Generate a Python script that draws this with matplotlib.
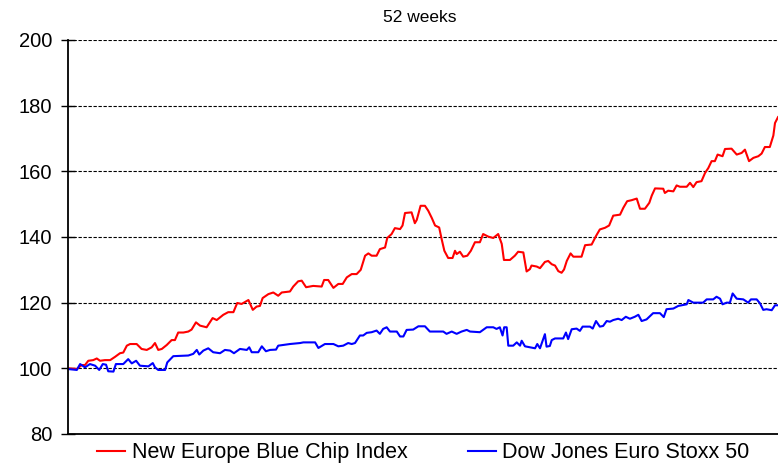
import matplotlib.pyplot as plt

# trading day index (0..260) and index level
red_days = [0, 3.4, 5.2, 6.4, 7.6, 9.4, 10.7, 11.9, 13.7, 15.6, 17.4, 19.2, 20.4, 21.7, 22.9,
            25.3, 27.1, 29, 30.8, 32, 33.2, 34.5, 36.3, 38.1, 39.3, 40.5, 42.4, 44.2, 45.4,
            47, 48.5, 50.9, 53.1, 54.6, 57, 58.8, 60.7, 62.1, 63.7, 66.2, 67.8, 69.2, 70.4,
            71.4, 73.5, 75.3, 77.1, 78.4, 81.4, 82.6, 84.4, 85.7, 87.3, 89.9, 93, 93.9, 95.4,
            97.3, 99.1, 100.7, 102.2, 104, 105.8, 107.3, 108.9, 110.1, 111.3, 113.1, 114.3,
            116.2, 117, 118.6, 119.8, 121.7, 122.6, 123.5, 125.9, 127.1, 127.8, 129.2, 130.8,
            132, 133.3, 134.5, 136, 136.9, 137.9, 139.3, 140.9, 141.8, 142.4, 143.6, 144.8,
            146.3, 147.6, 149.1, 150.9, 152.1, 154, 155.8, 157.6, 158.9, 159.7, 161.9, 163.7,
            164.9, 166.8, 168, 169.2, 169.8, 171.7, 172.9, 174.7, 175.9, 177.2, 178.4, 179.6,
            180.8, 181.7, 182.7, 184.1, 185.1, 188.1, 189.4, 191.8, 193.4, 194.8, 196.7, 198.2,
            199.7, 202.2, 203.4, 204.8, 206.4, 208.3, 209.5, 211.3, 212.9, 213.8, 215, 218,
            218.6, 219.8, 221.7, 222.9, 224.1, 226.6, 227.8, 229, 230.2, 232, 233.3, 234.5,
            235.7, 236.9, 237.9, 239.7, 240.6, 243, 244.9, 246.7, 247.9, 249.4, 251, 252.8,
            254, 255.2, 257, 258.3, 258.9, 260]
red_vals = [100, 99.8, 101, 101, 102.3, 102.5, 103, 102.3, 102.5, 102.5, 103.5, 104.6, 104.8,
            106.9, 107.4, 107.4, 105.9, 105.6, 106.4, 107.7, 105.6, 105.9, 107.1, 108.6, 108.6,
            110.9, 110.9, 111.2, 111.8, 114, 113, 112.5, 115.3, 114.7, 116.3, 117.1, 117.1,
            119.9, 119.6, 120.8, 117.8, 118.8, 119, 121.4, 122.6, 123.1, 122.1, 123.1, 123.4,
            124.9, 126.5, 126.7, 124.7, 125.1, 124.9, 126.9, 126.9, 124.5, 125.7, 125.7, 127.7,
            128.7, 128.7, 130, 134.3, 135, 134.3, 134.3, 136.3, 136.8, 139.7, 140.9, 142.7,
            142.4, 143.5, 147.3, 147.5, 144.2, 145.2, 149.5, 149.5, 148, 145.8, 143.5, 142.9,
            139.4, 135.8, 133.6, 133.6, 135.8, 134.8, 135.5, 134, 134.3, 135.8, 138.4, 138.4,
            140.9, 140.1, 139.7, 140.9, 137.9, 133, 133, 134.3, 135.5, 135.3, 129.5, 130.2,
            131.3, 131, 130.5, 132.4, 132.7, 131.7, 131.3, 129.6, 129.1, 130.1, 132.7, 135, 134,
            134, 137.5, 137.7, 140.3, 142.3, 142.8, 143.5, 146.5, 146.8, 148.9, 150.9, 151.2,
            151.7, 148.6, 148.6, 150.4, 152.6, 154.8, 154.7, 153.4, 154.1, 153.9, 155.7, 155.3,
            155.3, 156.5, 155.2, 156.7, 157, 159.5, 161, 163.1, 163.1, 165.1, 164.6, 166.8,
            166.9, 165.1, 165.6, 166.6, 163.1, 164.1, 164.6, 165.4, 167.4, 167.4, 170.9, 174.7,
            176.5]

blue_days = [0, 3.4, 4.6, 6.4, 8.2, 10.1, 11.6, 12.9, 14.1, 14.9, 16.8, 17.7, 20.4, 22.2, 23.5,
             25.1, 26.5, 29.6, 31.2, 32, 33.2, 35.7, 36.5, 38.7, 44.2, 46, 47.3, 48.2, 49.7,
             51.5, 53.3, 55.8, 57.6, 59.5, 60.9, 63.1, 65.6, 66.5, 67.4, 69.8, 71.1, 72.6, 74.1,
             76.3, 77.1, 81.4, 85.1, 86.3, 90.6, 91.8, 94.2, 97.3, 99.1, 100.9, 102.7, 104,
             105.2, 107, 108.2, 109.5, 111.3, 113.1, 114.3, 115.5, 116.8, 118, 120.5, 121.7,
             122.9, 124.1, 126.5, 128.4, 130.8, 132.6, 137.5, 138.7, 140.6, 142.4, 144.2,
             146.1, 147.3, 150.9, 153.4, 155.8, 157, 158.2, 159.2, 159.8, 160.7, 161.3, 163.1,
             164.4, 165.6, 166.2, 167.4, 169.2, 171.1, 171.9, 172.9, 174.7, 175.3, 176.5, 177.2,
             178.4, 181.4, 182.4, 183.2, 184.5, 186.3, 187.5, 188.5, 191.2, 192.2, 193.4, 194.8,
             196, 197.3, 198.5, 199.7, 201.5, 202.8, 204.3, 205.8, 207.6, 208.9, 210.1, 211.9,
             214.3, 216.8, 218.2, 219.2, 221.7, 223.5, 226.6, 227.2, 229, 232.6, 233.9, 236.3,
             237.5, 238.8, 239.7, 241.2, 242.4, 243.4, 244.9, 247.3, 249.1, 250.1, 252.2, 253.4,
             254.6, 255.8, 257.7, 258.9, 260]
blue_vals = [99.8, 99.5, 101.3, 100.3, 101.3, 100.8, 99.5, 101.3, 101.1, 99.1, 99, 101.3, 101.3,
             102.8, 101.5, 102.3, 100.8, 100.6, 101.6, 100.3, 99.5, 99.5, 101.8, 103.7, 103.9,
             104.4, 105.6, 104.2, 105.4, 106.1, 104.9, 104.6, 105.6, 105.4, 104.6, 105.9, 105.6,
             106.4, 104.9, 104.9, 106.7, 105.2, 105.6, 105.7, 106.9, 107.4, 107.7, 107.9, 107.9,
             106.2, 107.4, 107.4, 106.7, 106.9, 107.7, 107.4, 107.7, 110, 110, 110.8, 111, 111.5,
             110.5, 112, 112.5, 111.2, 111.2, 109.7, 109.7, 111.7, 111.8, 112.8, 112.8, 111.2,
             111.2, 110.5, 111.2, 110.5, 111.2, 111.7, 111.2, 111, 112.5, 112.5, 112, 112.5,
             110, 112.5, 112.5, 106.9, 106.9, 107.9, 106.9, 108.4, 106.7, 106.4, 106.1, 107.4,
             106.1, 110.4, 106.6, 106.8, 108.6, 109.1, 109.1, 110.9, 108.9, 111.9, 112.1, 111.4,
             112.7, 112.7, 112.1, 114.4, 112.7, 112.9, 114.4, 114.2, 114.7, 115.1, 114.7, 115.7,
             115.1, 115.7, 116.3, 114.4, 114.9, 116.8, 116.8, 115.6, 118, 118.2, 119, 119.5,
             120.8, 120, 120, 121, 121, 121.8, 121.2, 119.5, 120, 120, 122.8, 121.2, 121, 120,
             121, 121, 119.8, 117.8, 118, 117.7, 119.2, 119.2]

y_ticks = [80, 100, 120, 140, 160, 180, 200]

plt.rcParams['font.family'] = ['Liberation Sans', 'DejaVu Sans']

fig = plt.figure(figsize=(7.78, 4.66), dpi=100)
ax = fig.add_axes([0.0868, 0.0687, 0.9132, 0.8455])

ax.plot(red_days, red_vals, color='#ff0000', lw=1.5, label='New Europe Blue Chip Index')
ax.plot(blue_days, blue_vals, color='#0000ff', lw=1.5, label='Dow Jones Euro Stoxx 50')

ax.set_xlim(0, 260)
ax.set_ylim(80, 200)
ax.set_yticks(y_ticks)
ax.set_xticks([])
ax.tick_params(axis='y', labelsize=14.5, length=10, width=1, direction='inout', pad=6)

for v in y_ticks[1:]:
    ax.axhline(v, color='black', lw=0.8, ls=(0, (3, 1.5)), zorder=0)

for s in ['top', 'right']:
    ax.spines[s].set_visible(False)
ax.spines['left'].set_linewidth(1.3)
ax.spines['bottom'].set_linewidth(1.3)

fig.text(0.54, 0.963, '52 weeks', ha='center', va='center', fontsize=12.5)

fig.legend(loc='lower center', bbox_to_anchor=(0.544, -0.036), ncol=2, frameon=False,
           fontsize=15.5, handlelength=1.3, handletextpad=0.3, columnspacing=2.8)

fig.savefig('out.png', dpi=100)
